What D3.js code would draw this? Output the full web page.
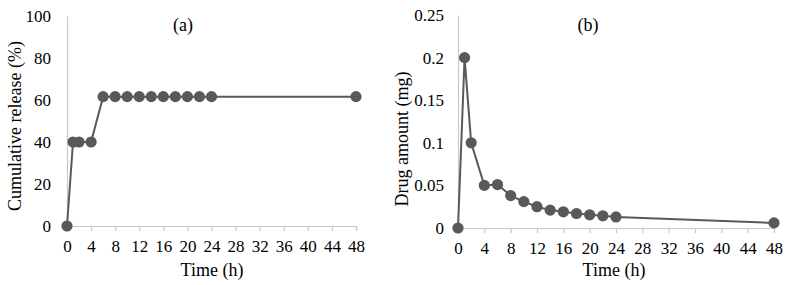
<!DOCTYPE html>
<html>
<head>
<meta charset="utf-8">
<script src="https://cdn.jsdelivr.net/npm/d3@7"></script>
<style>
  body { margin: 0; background: #fff; }
  svg text { font-family: "Liberation Serif", "Times New Roman", Times, serif !important; fill: #000; }
</style>
</head>
<body>
<div id="chart"></div>
<script>
const w = 788;
const h = 285;

// time points (h)
const timeA = [0, 1, 2, 4, 6, 8, 10, 12, 14, 16, 18, 20, 22, 24, 48];
const releaseA = [0, 40, 40, 40, 61.6, 61.6, 61.6, 61.6, 61.6, 61.6, 61.6, 61.6, 61.6, 61.6, 61.6];
const timeB = [0, 1, 2, 4, 6, 8, 10, 12, 14, 16, 18, 20, 22, 24, 48];
const amountB = [0, 0.2, 0.1, 0.05, 0.051, 0.038, 0.031, 0.025, 0.021, 0.019, 0.017, 0.0155, 0.0143, 0.013, 0.006];

const xTicks = [0, 4, 8, 12, 16, 20, 24, 28, 32, 36, 40, 44, 48];
const yTicksA = [0, 20, 40, 60, 80, 100];
const yTicksB = [0, 0.05, 0.1, 0.15, 0.2, 0.25];

const svg = d3.select("#chart").
append("svg").
attr("width", w).
attr("height", h);

//one panel = one function, called twice
function panel(opt) {
  const g = svg.append("g");

  const xScale = d3.scaleLinear().domain([0, 48]).range([opt.x0, opt.x1]);
  const yScale = d3.scaleLinear().domain([0, opt.yMax]).range([opt.y0, opt.y1]);

  //x axis, light gray with little ticks under it
  const xAxis = d3.axisBottom(xScale).tickValues(xTicks).tickSize(5).tickPadding(9);
  const gx = g.append("g").
  attr("transform", "translate(0," + opt.y0 + ")").
  call(xAxis);
  gx.select(".domain").attr("stroke", "#c8c8c8").attr("stroke-width", 1.2);
  gx.selectAll(".tick line").attr("stroke", "#c8c8c8").attr("stroke-width", 1.2);
  gx.selectAll(".tick text").
  style("font-size", "17px").
  attr("fill", "#000");

  //y axis has no ticks, just the line
  const yAxis = d3.axisLeft(yScale).tickValues(opt.yTicks).tickSize(0).tickPadding(opt.yPad).tickFormat(opt.fmt);
  const gy = g.append("g").
  attr("transform", "translate(" + opt.x0 + ",0)").
  call(yAxis);
  gy.select(".domain").attr("stroke", "#c8c8c8").attr("stroke-width", 1.2);
  gy.selectAll(".tick text").
  style("font-size", "17px").
  attr("fill", "#000");

  const line = d3.line().
  x((d, i) => xScale(opt.xs[i])).
  y(d => yScale(d));

  g.append("path").
  datum(opt.ys).
  attr("d", line).
  attr("fill", "none").
  attr("stroke", "#595959").
  attr("stroke-width", 2);

  g.selectAll("circle").
  data(opt.ys).
  enter().
  append("circle").
  attr("cx", (d, i) => xScale(opt.xs[i])).
  attr("cy", d => yScale(d)).
  attr("r", 5.6).
  attr("fill", "#595959");

  //labels
  g.append("text").
  attr("x", opt.labelX).
  attr("y", 31).
  attr("text-anchor", "middle").
  style("font-size", "18px").
  text(opt.label);

  g.append("text").
  attr("x", opt.timeX).
  attr("y", 276).
  attr("text-anchor", "middle").
  style("font-size", "18px").
  text("Time (h)");

  g.append("text").
  attr("transform", "translate(" + opt.titleX + "," + opt.titleY + ") rotate(-90)").
  attr("text-anchor", "middle").
  style("font-size", "18px").
  text(opt.yTitle);
}

panel({
  xs: timeA, ys: releaseA,
  x0: 67, x1: 356, y0: 226, y1: 16, yMax: 100,
  yTicks: yTicksA, yPad: 16, fmt: d3.format("d"),
  label: "(a)", labelX: 183, timeX: 212,
  yTitle: "Cumulative release (%)", titleX: 21, titleY: 126
});

panel({
  xs: timeB, ys: amountB,
  x0: 458, x1: 774, y0: 228, y1: 15, yMax: 0.25,
  yTicks: yTicksB, yPad: 14, fmt: d => d === 0 ? "0" : String(+d.toFixed(2)),
  label: "(b)", labelX: 588, timeX: 614,
  yTitle: "Drug amount (mg)", titleX: 408, titleY: 139
});
</script>
</body>
</html>
